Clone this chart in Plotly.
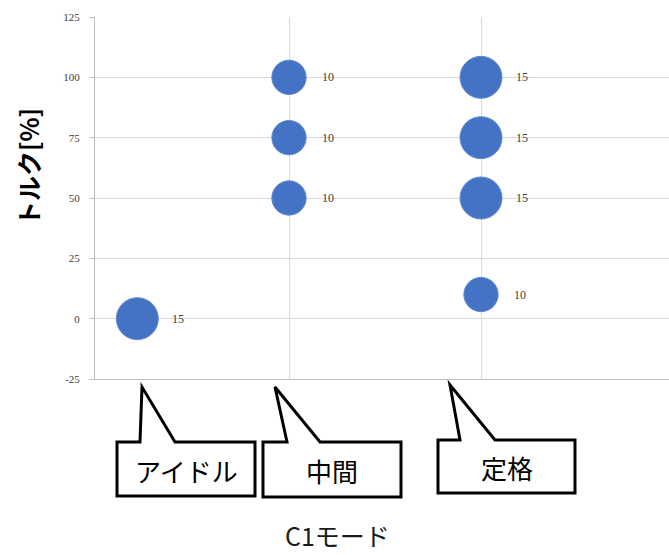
import plotly.graph_objects as go

# ---- data ----
modes_x = [0.21, 1, 1, 1, 2, 2, 2, 2]
torque = [0, 100, 75, 50, 100, 75, 50, 10]
bubble_size = [15, 10, 10, 10, 15, 15, 15, 10]

y_ticks = [-25, 0, 25, 50, 75, 100, 125]
y_tick_text = ["-25", "0", "25", "50", "75", "100", "125"]
callout_labels = ["アイドル", "中間", "定格"]
x_title = "C1モード"
y_title = "トルク[%]"

# ---- layout geometry (pixels) ----
W, H = 669, 555
ML, MR, MT, MB = 95, 0, 17, 176
PW = W - ML - MR
PH = H - MT - MB


def px(x):
    return (x - ML) / PW


def py(y):
    return (H - MB - y) / PH


fig = go.Figure()
fig.add_trace(go.Scatter(
    x=modes_x, y=torque, mode="markers",
    marker=dict(size=bubble_size, sizemode="area", sizeref=2 * 15 / (42 ** 2),
                color="#4472C4", line=dict(color="#5f8ad3", width=1), opacity=1),
    hoverinfo="skip", showlegend=False,
))

annotations = []
for xv, yv, s in zip(modes_x, torque, bubble_size):
    annotations.append(dict(
        x=xv, y=yv, xref="x", yref="y", text=str(s), showarrow=False,
        xanchor="left", yanchor="middle", xshift=31 if s == 10 else 33,
        font=dict(family="Liberation Serif, serif", size=12, color="#3a3a3a"),
    ))

# callouts: box (x0, y0, x1, y1), pointer left/right x, tip (x, y)
callouts = [
    ((117, 442, 255, 496), (140, 175), (142, 387)),
    ((263, 442, 401, 497), (287, 320), (275, 387)),
    ((438, 440, 575, 493), (460, 495), (450, 385)),
]
shapes = []
for (bx0, by0, bx1, by1), (pl, pr), (tx, ty), lab in zip(
        [c[0] for c in callouts], [c[1] for c in callouts], [c[2] for c in callouts], callout_labels):
    pts = [(bx0, by0), (pl, by0), (tx, ty), (pr, by0), (bx1, by0), (bx1, by1), (bx0, by1)]
    path = "M " + " L ".join(f"{px(a):.5f},{py(b):.5f}" for a, b in pts) + " Z"
    shapes.append(dict(type="path", path=path, xref="paper", yref="paper",
                       line=dict(color="black", width=3), fillcolor="white", layer="above"))
    annotations.append(dict(
        x=px((bx0 + bx1) / 2), y=py((by0 + by1) / 2 + 1), xref="paper", yref="paper",
        text=lab, showarrow=False, xanchor="center", yanchor="middle",
        font=dict(family="Noto Sans CJK JP", size=26, color="black"),
    ))

annotations.append(dict(
    x=px(337), y=py(535), xref="paper", yref="paper", text=x_title, showarrow=False,
    xanchor="center", yanchor="middle",
    font=dict(family="Noto Sans CJK JP", size=25, color="#1a1a1a"),
))
annotations.append(dict(
    x=px(28), y=py(167), xref="paper", yref="paper", text=f"<b>{y_title}</b>", showarrow=False,
    xanchor="center", yanchor="middle", textangle=-90,
    font=dict(family="Noto Sans CJK JP", size=25, color="black"),
))

fig.update_layout(
    width=W, height=H,
    margin=dict(l=ML, r=MR, t=MT, b=MB, pad=0),
    paper_bgcolor="white", plot_bgcolor="white",
    showlegend=False,
    shapes=shapes,
    annotations=annotations,
    xaxis=dict(range=[-0.0104, -0.0104 + PW / 192], tickvals=[1, 2], showgrid=True,
               gridcolor="#d9d9d9", gridwidth=1, showticklabels=False, zeroline=False,
               showline=True, linecolor="#bfbfbf", linewidth=1, ticks=""),
    yaxis=dict(range=[-25, 125], tickvals=y_ticks, ticktext=y_tick_text, showgrid=True,
               gridcolor="#d9d9d9", gridwidth=1, zeroline=False, showline=True,
               linecolor="#bfbfbf", linewidth=1,
               ticks="outside", ticklen=5, tickcolor="#bfbfbf", ticklabelstandoff=7,
               tickfont=dict(family="Liberation Serif, serif", size=11, color="#404040")),
)

fig.write_html("out.html")
